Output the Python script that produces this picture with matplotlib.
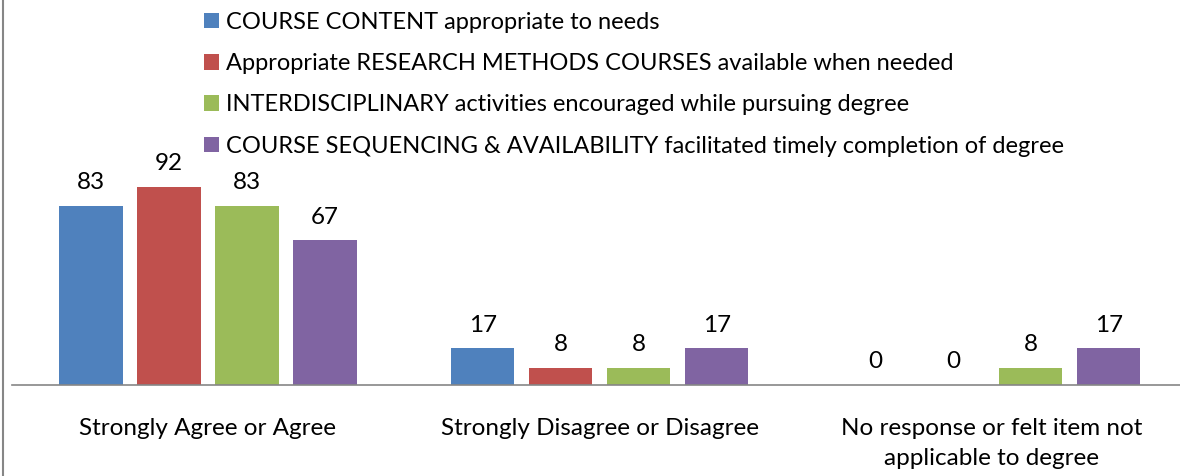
import matplotlib.pyplot as plt
import numpy as np
from matplotlib.patches import Patch
from matplotlib.lines import Line2D

plt.rcParams['font.family'] = ['Lato', 'DejaVu Sans']

#data
categories = ["Strongly Agree or Agree", "Strongly Disagree or Disagree",
              "No response or felt item not\napplicable to degree"]
series_names = ["COURSE CONTENT appropriate to needs",
                "Appropriate RESEARCH METHODS COURSES available when needed",
                "INTERDISCIPLINARY activities encouraged while pursuing degree",
                "COURSE SEQUENCING & AVAILABILITY facilitated timely completion of degree"]
content = [83, 17, 0]
research = [92, 8, 0]
interdisc = [83, 8, 8]
sequencing = [67, 17, 17]

colors = ["#4F81BD", "#C0504D", "#9BBB59", "#8064A2"]
series = [content, research, interdisc, sequencing]

fig = plt.figure(figsize=(11.8, 4.76), dpi=100)
ax = fig.add_axes([12 / 1180, 91 / 476, 1168 / 1180, 385 / 476])

x = np.arange(len(categories))
step = 0.199
width = 0.161
for i, (vals, col) in enumerate(zip(series, colors)):
    pos = x + (i - 1.5) * step
    bars = ax.bar(pos, vals, width, color=col)
    for p, v in zip(pos, vals):
        ax.text(p, v + 5.8, str(v), ha="center", va="bottom", fontsize=17.5)

ax.set_xlim(-0.5, 2.48)
ax.set_ylim(0, 178.5)
ax.set_yticks([])
ax.set_xticks([])
for s in ["top", "right", "left"]:
    ax.spines[s].set_visible(False)
ax.spines["bottom"].set_color("#868686")
ax.spines["bottom"].set_linewidth(1.2)

for xi, lab in zip(x, categories):
    ax.text(xi, -15.5, lab, ha="center", va="top", fontsize=17.5, linespacing=1.5)

handles = [Patch(facecolor=c, edgecolor="none") for c in colors]
fig.legend(handles, series_names, loc="upper left", bbox_to_anchor=(192 / 1180, 1.0),
           frameon=False, fontsize=17, handlelength=0.64, handleheight=0.64,
           handletextpad=0.32, labelspacing=0.86, borderaxespad=0.1)

#left border of the chart area
fig.add_artist(Line2D([3 / 1180, 3 / 1180], [0, 1], transform=fig.transFigure,
                      color="#868686", linewidth=1.5))

fig.savefig("out.png", dpi=100)
